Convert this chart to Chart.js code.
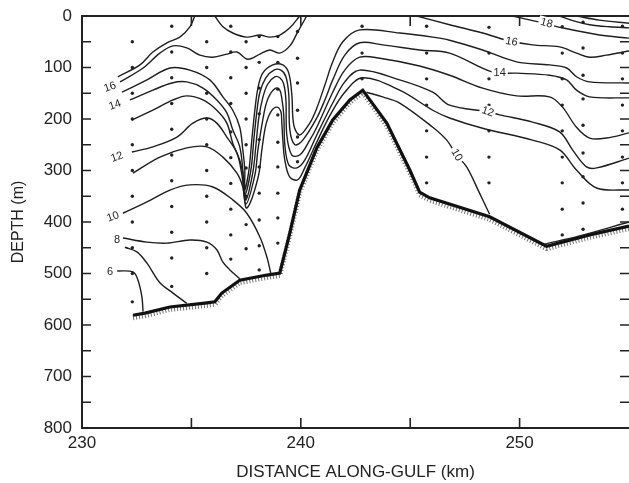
<!DOCTYPE html>
<html>
<head>
<meta charset="utf-8">
<script src="https://cdn.jsdelivr.net/npm/chart.js@4.4.0/dist/chart.umd.min.js"></script>
<style>
  html, body { margin: 0; padding: 0; background: #fff; }
  #wrap { width: 629px; height: 483px; position: relative; }
</style>
</head>
<body>
<div id="wrap"><canvas id="section"></canvas></div>
<script>
// temperature contours, [distance km, depth m]
const iso17West = [[231.64,118],[232.65,95],[233.24,70],[233.88,52],[234.47,41],[234.93,21],[235.16,0]];
const iso17Top = [[236.07,0],[236.44,21],[236.89,33],[237.53,41],[238.13,37],[238.58,41],[239.04,37],[239.50,23],[239.95,0]];
const iso16West = [[231.74,128],[232.79,101],[233.56,72],[234.16,58],[234.79,62],[235.39,76],[235.98,80],[236.62,74],[237.08,70],[237.58,84],[238.13,74],[238.58,66],[239.04,72],[239.50,58],[239.86,31],[240.27,0]];
const iso16East = [[245.30,0],[246.80,17],[248.31,33],[249.41,47],[250.59,56],[251.83,60],[252.60,72],[253.20,80],[253.97,76],[255,68]];
const iso18a = [[249.68,0],[250.91,12],[251.96,23],[253.65,37],[255,43]];
const iso18b = [[251.83,0],[252.51,10],[253.20,17],[254.11,21],[255,23]];
const iso18c = [[252.60,0],[253.65,8],[255,14]];
const iso15 = [[231.83,148],[232.97,124],[234.02,101],[234.93,105],[235.84,124],[236.44,157],[236.89,183],[237.21,216],[237.35,260],[237.44,299],[237.44,338],[237.63,299],[237.76,241],[237.90,183],[238.04,140],[238.26,111],[238.72,95],[239.18,95],[239.45,111],[239.59,153],[239.68,212],[239.95,231],[240.41,208],[240.73,179],[241.10,134],[241.46,89],[241.92,50],[242.69,27],[244.52,33],[246.03,41],[246.80,47],[248.31,66],[249.86,89],[251.37,95],[252.15,101],[252.60,118],[253.20,128],[255,130]];
const iso14 = [[232.19,163],[233.24,144],[234.11,130],[234.79,128],[235.53,140],[236.16,163],[236.62,188],[236.89,221],[237.21,254],[237.35,299],[237.44,348],[237.72,299],[237.85,241],[237.99,186],[238.13,148],[238.40,120],[238.77,105],[239.09,105],[239.32,118],[239.45,153],[239.50,221],[239.73,250],[240.09,241],[240.73,198],[241.10,163],[241.46,124],[242.01,76],[242.69,52],[243.74,56],[245.43,66],[246.80,72],[248.77,109],[249.86,111],[251.37,115],[252.15,124],[252.60,144],[253.20,157],[255,159]];
const iso13 = [[232.28,202],[233.24,183],[234.16,163],[234.79,155],[235.53,163],[236.16,183],[236.62,208],[236.89,247],[237.21,280],[237.40,318],[237.49,357],[237.81,303],[237.95,251],[238.08,198],[238.26,159],[238.49,132],[238.81,118],[239.04,120],[239.22,132],[239.32,163],[239.36,231],[239.59,270],[239.95,270],[240.41,241],[240.73,216],[241.46,148],[242.01,105],[242.69,80],[243.61,82],[245.43,97],[246.80,115],[248.31,140],[249.86,155],[251.37,157],[251.96,177],[252.60,216],[253.20,237],[253.97,237],[255,227]];
const iso12 = [[232.28,264],[233.24,254],[234.34,235],[235.07,208],[235.71,198],[236.16,208],[236.62,235],[237.08,266],[237.31,309],[237.49,365],[237.90,309],[238.04,260],[238.22,212],[238.40,173],[238.58,153],[238.86,140],[239.04,144],[239.13,159],[239.22,192],[239.27,250],[239.45,289],[239.82,295],[240.18,280],[240.73,231],[241.46,169],[242.01,128],[242.69,105],[244.52,124],[246.03,148],[246.80,173],[248.54,186],[249.09,192],[250.59,206],[251.83,225],[252.42,260],[253.06,293],[253.52,295],[255,276]];
const iso11 = [[232.33,305],[233.56,274],[234.79,256],[235.71,254],[236.44,274],[237.08,305],[237.35,332],[237.53,373],[238.04,315],[238.22,260],[238.40,212],[238.63,186],[238.90,177],[239.09,186],[239.13,206],[239.18,241],[239.27,280],[239.50,313],[239.86,318],[240.18,295],[240.73,245],[241.32,194],[242.01,148],[242.83,120],[244.52,144],[246.03,183],[246.80,198],[248.31,218],[250.59,241],[251.83,260],[252.60,299],[253.52,334],[255,338]];
const iso10West = [[231.87,383],[232.97,361],[234.02,338],[234.93,328],[235.98,332],[236.89,357],[237.53,383],[238.13,429],[238.45,468],[238.63,500]];
const iso10East = [[243.00,148],[243.74,157],[244.52,169],[246.03,216],[246.67,241],[247.12,270],[247.58,293],[248.17,344],[248.63,385]];
const iso10Floor = [[251.14,443],[252.74,427],[255,400]];
const iso8 = [[231.87,431],[232.97,439],[233.88,441],[234.93,435],[235.71,439],[236.16,454],[236.44,478],[236.76,493],[237.21,510]];
const iso7 = [[231.96,449],[232.51,458],[232.97,480],[233.56,518],[234.16,538],[234.79,558]];
const iso6 = [[231.60,495],[232.33,497],[232.56,513],[232.74,546],[232.79,574]];

// sea floor
const seafloor = [[232.33,581],[232.88,577],[234.02,565],[235.71,557],[236.07,555],[236.39,538],[237.21,513],[238.45,503],[239.04,499],[239.50,421],[239.95,338],[240.73,256],[241.46,202],[242.24,163],[242.83,144],[243.93,208],[244.98,299],[245.43,342],[245.89,353],[248.63,390],[251.23,447],[253.20,425],[255,408]];

// hydrographic stations: distance and sample depths
const stationKm = [232.3, 234.1, 235.7, 236.8, 237.5, 238.1, 238.95, 239.85, 242.8, 245.75, 248.6, 251.95, 252.9, 254.7];
const stationDepths = [
  [50,100,150,200,250,300,350,400,450,500,555],
  [20,70,120,170,220,270,320,370,420,470,525],
  [50,100,150,200,250,300,350,400,450,500],
  [20,70,120,170,225,275,325,375,425,472],
  [50,100,150,200,250,295,350,405,452],
  [40,90,140,190,240,293,344,396,446,493],
  [40,90,142,192,245,293,344,392,441],
  [30,82,130,183,235,283],
  [20,72,122],
  [20,72,122,173,223,274,324],
  [22,72,122,173,223,274,324],
  [21,72,122,173,223,274,324,375,425],
  [12,62,115,161,212,266,312,363,414],
  [20,72,122,173,223,274,324,375]
];

const xTicks = [230, 235, 240, 245, 250, 255];
const yTicks = [0, 100, 200, 300, 400, 500, 600, 700, 800];

const contourLabels = [
  { text: '16', x: 231.28, y: 138, rot: -20 },
  { text: '14', x: 231.51, y: 173, rot: -20 },
  { text: '12', x: 231.60, y: 274, rot: -20 },
  { text: '10', x: 231.42, y: 390, rot: -20 },
  { text: '8',  x: 231.60, y: 435, rot: 0 },
  { text: '6',  x: 231.28, y: 497, rot: 0 },
  { text: '18', x: 251.23, y: 14,  rot: 15 },
  { text: '16', x: 249.63, y: 50,  rot: 10 },
  { text: '14', x: 249.09, y: 111, rot: 0 },
  { text: '12', x: 248.54, y: 186, rot: 18 },
  { text: '10', x: 247.12, y: 270, rot: 60 }
];

const FONT = '"Liberation Sans", Arial, sans-serif';
const toXY = arr => arr.map(p => ({ x: p[0], y: p[1] }));

const contours = [iso17West, iso17Top, iso16West, iso16East, iso18a, iso18b, iso18c,
  iso15, iso14, iso13, iso12, iso11, iso10West, iso10East, iso10Floor, iso8, iso7, iso6];

const stations = [];
stationKm.forEach((km, i) => stationDepths[i].forEach(d => stations.push({ x: km, y: d })));

const datasets = contours.map(c => ({
  data: toXY(c),
  showLine: true,
  borderColor: '#1e1e1e',
  borderWidth: 1.4,
  pointRadius: 0,
  tension: 0.35,
  fill: false
}));

datasets.push({
  data: toXY(seafloor),
  showLine: true,
  borderColor: '#111',
  borderWidth: 3.2,
  pointRadius: 0,
  tension: 0
});
// fuzzy hatching under the sea floor
datasets.push({
  data: toXY(seafloor),
  showLine: true,
  borderColor: 'rgba(0,0,0,0.55)',
  borderWidth: 5,
  borderDash: [1, 2],
  pointRadius: 0,
  tension: 0,
  hatch: true
});
datasets.push({
  data: stations,
  showLine: false,
  pointRadius: 1.7,
  pointBackgroundColor: '#222',
  pointBorderWidth: 0
});

// shift the hatch a little below the sea-floor line
const hatchShift = {
  id: 'hatchShift',
  beforeDatasetDraw(chart, args) {
    if (args.meta._dataset.hatch) { chart.ctx.save(); chart.ctx.translate(0, 2.5); }
  },
  afterDatasetDraw(chart, args) {
    if (args.meta._dataset.hatch) chart.ctx.restore();
  }
};

// frame, inward ticks and contour labels
const framePlugin = {
  id: 'frame',
  afterDatasetsDraw(chart) {
    const { ctx, chartArea: a, scales: { x, y } } = chart;
    ctx.save();
    ctx.strokeStyle = '#222';
    ctx.lineWidth = 2;
    ctx.beginPath();
    ctx.moveTo(a.left, a.top);
    ctx.lineTo(a.right, a.top);
    ctx.stroke();

    ctx.lineWidth = 1.6;
    ctx.beginPath();
    for (let d = 0; d <= 800; d += 50) {
      const py = y.getPixelForValue(d);
      ctx.moveTo(a.left, py);
      ctx.lineTo(a.left + 9, py);
      if (d > 0 && d < 800) {
        ctx.moveTo(a.right - 9, py);
        ctx.lineTo(a.right, py);
      }
    }
    xTicks.slice(1, -1).forEach(k => {
      const px = x.getPixelForValue(k);
      ctx.moveTo(px, a.top);
      ctx.lineTo(px, a.top + 10);
      ctx.moveTo(px, a.bottom);
      ctx.lineTo(px, a.bottom - 10);
    });
    ctx.stroke();

    ctx.font = '11px ' + FONT;
    ctx.textAlign = 'center';
    ctx.textBaseline = 'middle';
    contourLabels.forEach(l => {
      const px = x.getPixelForValue(l.x);
      const py = y.getPixelForValue(l.y);
      const w = ctx.measureText(l.text).width;
      ctx.save();
      ctx.translate(px, py);
      ctx.rotate(l.rot * Math.PI / 180);
      ctx.fillStyle = '#fff';
      ctx.fillRect(-w / 2 - 2, -6, w + 4, 12);
      ctx.fillStyle = '#222';
      ctx.fillText(l.text, 0, 0);
      ctx.restore();
    });
    ctx.restore();
  }
};

new Chart(document.getElementById('section'), {
  type: 'scatter',
  data: { datasets },
  options: {
    responsive: true,
    maintainAspectRatio: false,
    animation: false,
    layout: { autoPadding: false, padding: { top: 16, right: 0, left: 0, bottom: 0 } },
    plugins: { legend: { display: false }, tooltip: { enabled: false } },
    scales: {
      x: {
        type: 'linear',
        min: 230,
        max: 255,
        afterBuildTicks: s => { s.ticks = xTicks.map(v => ({ value: v })); },
        afterFit: s => { s.height = 55; s.paddingLeft = 0; s.paddingRight = 0; },
        grid: { display: false, tickLength: 0 },
        border: { display: true, color: '#222', width: 2 },
        ticks: {
          autoSkip: false,
          maxRotation: 0,
          padding: 5,
          color: '#222',
          font: { size: 17, family: FONT },
          callback: v => (v % 10 === 0 ? v : '')
        },
        title: {
          display: true,
          text: 'DISTANCE ALONG-GULF (km)',
          color: '#222',
          padding: { top: 0, bottom: 0 },
          font: { size: 17, family: FONT }
        }
      },
      y: {
        type: 'linear',
        reverse: true,
        min: 0,
        max: 800,
        afterBuildTicks: s => { s.ticks = yTicks.map(v => ({ value: v })); },
        afterFit: s => { s.width = 82; s.paddingTop = 0; s.paddingBottom = 0; },
        grid: { display: false, tickLength: 0 },
        border: { display: true, color: '#222', width: 2 },
        ticks: {
          padding: 10,
          color: '#222',
          font: { size: 17, family: FONT }
        },
        title: {
          display: true,
          text: 'DEPTH (m)',
          color: '#222',
          padding: { top: 9, bottom: 0 },
          font: { size: 16, family: FONT }
        }
      }
    }
  },
  plugins: [framePlugin, hatchShift]
});
</script>
</body>
</html>
